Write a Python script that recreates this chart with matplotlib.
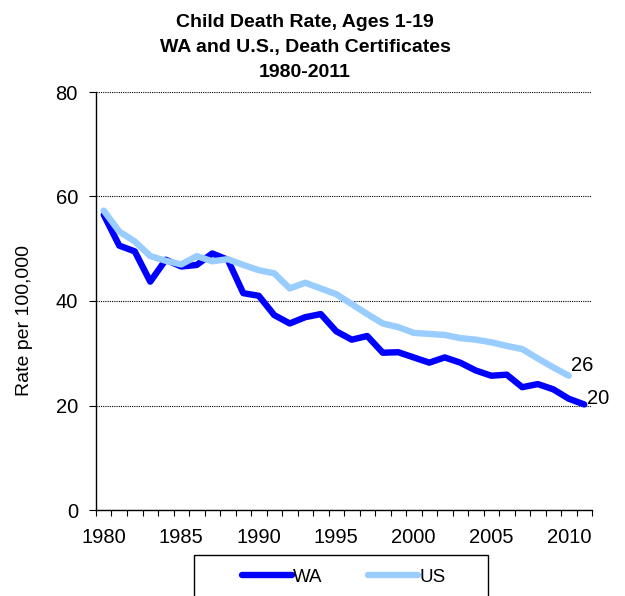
#!/usr/bin/env python3
"""Child death rate, ages 1-19: WA vs U.S. line chart (1980-2011)."""

import matplotlib

matplotlib.use("Agg")
import matplotlib.pyplot as plt
from matplotlib.patches import Rectangle

plt.rcParams["font.family"] = ["Liberation Sans", "DejaVu Sans"]

# data
years = list(range(1980, 2012))
wa_rate = [
    56.5, 50.6, 49.5, 43.7, 47.9, 46.6, 46.9, 49.1, 47.9, 41.5,
    41.0, 37.3, 35.7, 36.9, 37.5, 34.2, 32.6, 33.3, 30.1, 30.2,
    29.2, 28.2, 29.2, 28.2, 26.7, 25.7, 25.9, 23.5, 24.1, 23.1,
    21.3, 20.2,
]
us_rate = [
    57.3, 53.3, 51.4, 48.6, 47.7, 47.0, 48.6, 47.6, 48.0, 46.9,
    45.9, 45.3, 42.4, 43.5, 42.4, 41.3, 39.4, 37.5, 35.7, 35.0,
    33.9, 33.7, 33.5, 32.9, 32.6, 32.1, 31.4, 30.8, 29.0, 27.3,
    25.7,
]
series_labels = ["WA", "US"]
end_labels = ["20", "26"]
title_lines = [
    "Child Death Rate, Ages 1-19",
    "WA and U.S., Death Certificates",
    "1980-2011",
]
y_ticks = [0, 20, 40, 60, 80]
x_label_years = [1980, 1985, 1990, 1995, 2000, 2005, 2010]

WA_COLOR = "#0000FF"
US_COLOR = "#99CCFF"
LINE_W = 4.6

W, H = 625, 596
fig = plt.figure(figsize=(W / 100, H / 100), dpi=100)
ax = fig.add_axes([96 / W, 1 - 510 / H, (592 - 96) / W, (510 - 92) / H])

# categorical x positions (one slot per year)
x_wa = list(range(len(wa_rate)))
x_us = list(range(len(us_rate)))

ln_wa, = ax.plot(x_wa, wa_rate, color=WA_COLOR, lw=LINE_W, label=series_labels[0],
                 solid_capstyle="round", solid_joinstyle="round", zorder=3)
ln_us, = ax.plot(x_us, us_rate, color=US_COLOR, lw=LINE_W, label=series_labels[1],
                 solid_capstyle="round", solid_joinstyle="round", zorder=4)

ax.annotate(end_labels[0], (x_wa[-1], wa_rate[-1]), xytext=(2, 4.5),
            textcoords="offset points", fontsize=14.5, va="center", ha="left",
            annotation_clip=False)
ax.annotate(end_labels[1], (x_us[-1], us_rate[-1]), xytext=(1.5, 7.5),
            textcoords="offset points", fontsize=14.5, va="center", ha="left",
            annotation_clip=False)

ax.set_xlim(-0.5, len(years) - 0.5)
ax.set_ylim(0, 80)
ax.set_yticks(y_ticks)
ax.yaxis.grid(True, color="black", linestyle=(0, (1, 1)), lw=0.8)
ax.set_axisbelow(True)

# labels every 5 years, tick marks at category boundaries
ax.set_xticks([years.index(y) for y in x_label_years])
ax.set_xticklabels([str(y) for y in x_label_years])
ax.set_xticks([i - 0.5 for i in range(len(years) + 1)], minor=True)
ax.tick_params(axis="x", which="major", length=0, pad=13, labelsize=14.5)
ax.tick_params(axis="x", which="minor", length=4, width=0.8, direction="out")
ax.tick_params(axis="y", length=5, width=0.8, pad=8, labelsize=14.5)

for side in ("top", "right"):
    ax.spines[side].set_visible(False)
for side in ("left", "bottom"):
    ax.spines[side].set_linewidth(1.0)
    ax.spines[side].set_color("black")

fig.text(25 / W, 1 - 321 / H, "Rate per 100,000", rotation=90,
         ha="center", va="center", fontsize=14)
fig.text(305 / W, 1 - 14 / H, "\n".join(title_lines), ha="center", va="top",
         fontsize=14, fontweight="bold", linespacing=1.6)

# legend box runs off the bottom edge of the image
fig.add_artist(Rectangle((194 / W, -0.02), (488 - 194) / W, 0.02 + 1 - 555 / H,
                         transform=fig.transFigure, facecolor="white",
                         edgecolor="black", lw=1.0, clip_on=False))
fig.legend(handles=[ln_wa, ln_us], loc="center",
           bbox_to_anchor=((240 + 447) / 2 / W, 1 - 577 / H),
           ncol=2, frameon=False, fontsize=13.5, handlelength=2.7,
           handletextpad=0.05, columnspacing=2.4)

fig.savefig("out.png", dpi=100)
